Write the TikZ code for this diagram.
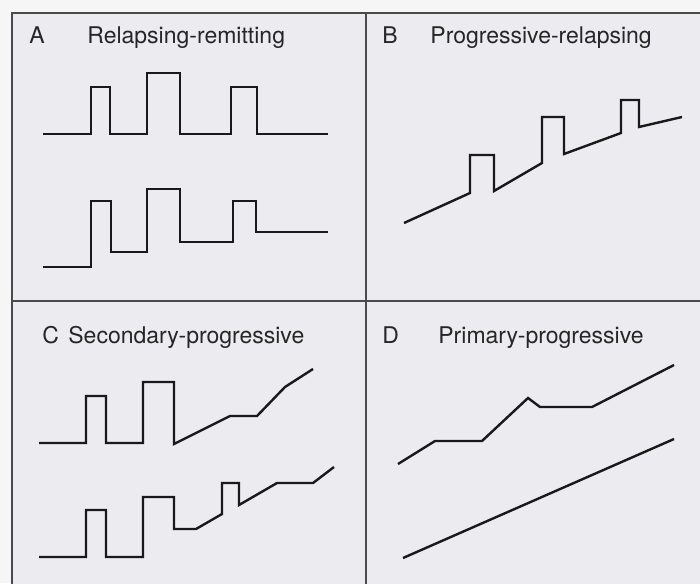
\documentclass[tikz,border=0pt]{standalone}
\usepackage{fontspec}
\setmainfont{TeX Gyre Heros}
\usetikzlibrary{positioning}
\definecolor{panelgray}{HTML}{ECEBEF}
\definecolor{papercol}{HTML}{F6F6F7}
\definecolor{framecol}{HTML}{4A4A4A}

\begin{document}
\begin{tikzpicture}[x=0.5pt,y=-0.5pt,
  trace/.style={line width=1.2pt,line join=miter,black!90},
  frame/.style={draw=framecol,line width=0.6pt},
  letter/.style={anchor=base west,inner sep=0pt,font=\fontsize{11.5}{13}\selectfont,text=black!85}]
  \useasboundingbox (0,0) rectangle (700,583);
  \clip (0,0) rectangle (700,583);
  \fill[papercol] (0,0) rectangle (700,583);
  % panels
  \filldraw[frame,fill=panelgray] (12,13) rectangle (720,600);
  \draw[frame] (366,13) -- (366,600);
  \draw[frame] (12,301) -- (720,301);
  % labels
  \node[letter] (letA) at (29,44) {A};
  \node[letter] (titA) at (87,44) {Relapsing-remitting};
  \node[letter] (letB) at (382,44) {B};
  \node[letter] (titB) at (430,44) {Progressive-relapsing};
  \node[letter] (letC) at (42,343) {C};
  \node[letter] (titC) at (68,343) {Secondary-progressive};
  \node[letter] (letD) at (382,343) {D};
  \node[letter] (titD) at (438,343) {Primary-progressive};
  % A
  \draw[trace] (43,134) -| (91,87) -| (110,134) -| (147,73) -| (180,134)
    -| (231,87) -| (257,134) -- (328,134);
  \draw[trace] (43,267) -| (91,201) -| (111,252) -| (147,189) -| (180,242)
    -| (233,201) -| (256,232) -- (328,232);
  % B
  \draw[trace] (404,223) -- (470,193) |- (494,155) -- (494,191) -- (542,163)
    |- (564,117) -- (564,154) -- (621,133) |- (639,100) -- (639,127) -- (682,117);
  % C
  \draw[trace] (39,443) -| (86,396) -| (106,443) -| (143,382) -| (174,444)
    -- (230,416) -- (257,416) -- (285,387) -- (313,369);
  \draw[trace] (39,557) -| (86,510) -| (106,557) -| (143,497) -| (174,529)
    -- (196,529) -- (222,514) |- (239,483) -- (239,505) -- (277,483)
    -- (313,483) -- (334,467);
  % D
  \draw[trace] (398,464) -- (435,441) -- (482,441) -- (528,398) -- (540,407)
    -- (592,407) -- (674,365);
  \draw[trace] (403,558) -- (674,439);
\end{tikzpicture}
\end{document}
